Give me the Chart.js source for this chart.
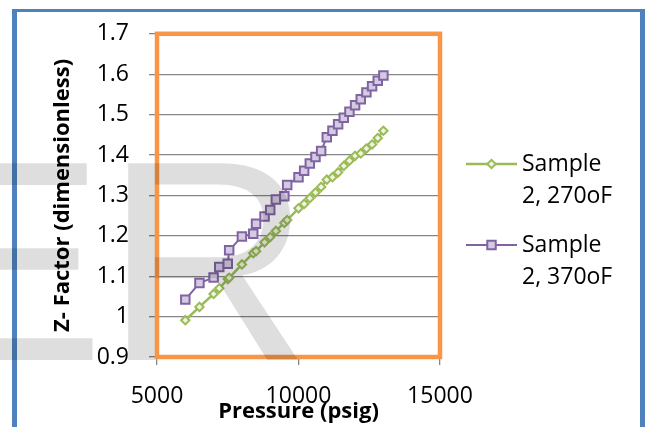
<!DOCTYPE html>
<html><head><meta charset="utf-8">
<script src="https://cdn.jsdelivr.net/npm/chart.js@4.4.1/dist/chart.umd.min.js"></script>
<style>html,body{margin:0;padding:0;background:#fff;}canvas{display:block;}</style>
</head><body>
<canvas id="c" width="649" height="427"></canvas>
<script>
// ---- data ----
const pressure = [6000,6500,7000,7200,7500,7550,8000,8400,8500,8800,9000,9200,9500,9600,10000,10200,10400,10600,10800,11000,11200,11400,11600,11800,12000,12200,12400,12600,12800,13000];
const z270 = [0.991,1.024,1.056,1.070,1.093,1.096,1.129,1.157,1.162,1.184,1.197,1.212,1.232,1.239,1.268,1.279,1.293,1.307,1.321,1.339,1.345,1.357,1.373,1.386,1.398,1.404,1.416,1.426,1.442,1.460];
const z370 = [1.042,1.083,1.097,1.123,1.131,1.164,1.198,1.205,1.230,1.248,1.264,1.290,1.298,1.326,1.345,1.361,1.379,1.395,1.410,1.444,1.460,1.476,1.492,1.507,1.523,1.538,1.555,1.570,1.584,1.597];
const seriesNames = ['Sample 2, 270oF', 'Sample 2, 370oF'];
const xTickValues = [5000, 10000, 15000];
const yTickValues = [0.9, 1.0, 1.1, 1.2, 1.3, 1.4, 1.5, 1.6, 1.7];
const xTitle = 'Pressure (psig)';
const yTitle = 'Z- Factor (dimensionless)';

const FONT = '"Open Sans", "Liberation Sans", sans-serif';
Chart.defaults.font.family = FONT;
Chart.defaults.color = '#000';

const green = '#9BBB59', purple = '#8064A2';

const datasets = [
  {
    label: seriesNames[0],
    data: pressure.map((p, i) => ({x: p, y: z270[i]})),
    showLine: true, borderColor: green, borderWidth: 2.5,
    pointStyle: 'rectRot', pointRadius: 4.2, pointBorderWidth: 2,
    pointBackgroundColor: '#EEF4E0', pointBorderColor: green
  },
  {
    label: seriesNames[1],
    data: pressure.map((p, i) => ({x: p, y: z370[i]})),
    showLine: true, borderColor: purple, borderWidth: 2,
    pointStyle: 'rect', pointRadius: 6, pointBorderWidth: 2,
    pointBackgroundColor: '#D4CBE3', pointBorderColor: purple
  }
];

const decorPlugin = {
  id: 'decor',
  beforeDraw(chart) {
    const ctx = chart.ctx;
    ctx.save(); ctx.fillStyle = '#fff'; ctx.fillRect(0, 0, chart.width, chart.height); ctx.restore();
  },
  beforeDatasetsDraw(chart) {
    const {ctx, chartArea: a} = chart;
    ctx.save();
    ctx.strokeStyle = '#F79646'; ctx.lineWidth = 4.5;
    ctx.strokeRect(a.left, a.top, a.right - a.left, a.bottom - a.top);
    ctx.restore();
  },
  afterDraw(chart) {
    const ctx = chart.ctx;
    ctx.save();
    // custom legend (wrapped labels)
    const entryY = [164, 245];
    chart.data.datasets.forEach((ds, i) => {
      const y = entryY[i];
      ctx.strokeStyle = ds.borderColor; ctx.lineWidth = ds.borderWidth;
      ctx.beginPath(); ctx.moveTo(466, y); ctx.lineTo(517, y); ctx.stroke();
      ctx.fillStyle = ds.pointBackgroundColor; ctx.strokeStyle = ds.pointBorderColor; ctx.lineWidth = ds.pointBorderWidth;
      Chart.helpers.drawPoint(ctx, {pointStyle: ds.pointStyle, radius: ds.pointRadius, borderWidth: ds.pointBorderWidth, rotation: 0}, 491.5, y);
      const sp = ds.label.indexOf(' ');
      const lines = [ds.label.slice(0, sp), ds.label.slice(sp + 1)];
      ctx.fillStyle = '#000'; ctx.font = '23px ' + FONT; ctx.textBaseline = 'middle'; ctx.textAlign = 'left';
      lines.forEach((t, k) => ctx.fillText(t, 522, y + k * 32));
    });
    // outer blue frame
    ctx.fillStyle = '#4F81BD';
    ctx.fillRect(12, 9, 633, 3);
    ctx.fillRect(12, 9, 5, 418);
    ctx.fillRect(640, 9, 5, 418);
    // faint watermark letters
    ctx.fillStyle = 'rgba(0,0,0,0.13)';
    ctx.font = '286px "Liberation Sans"';
    ctx.textBaseline = 'alphabetic'; ctx.textAlign = 'left';
    ctx.fillText('ER', -86, 360);
    ctx.restore();
  }
};

new Chart(document.getElementById('c'), {
  type: 'scatter',
  data: {datasets},
  plugins: [decorPlugin],
  options: {
    responsive: false, animation: false, devicePixelRatio: 1,
    layout: {padding: {left: 0, top: 27, right: 209, bottom: 0}},
    plugins: {legend: {display: false}, tooltip: {enabled: false}},
    scales: {
      x: {
        type: 'linear', min: 5000, max: 15000,
        afterBuildTicks: s => { s.ticks = xTickValues.map(v => ({value: v})); },
        afterFit: s => { s.height = 70; },
        ticks: {font: {size: 23}, padding: 18, callback: v => String(v), maxRotation: 0},
        grid: {drawOnChartArea: false, drawTicks: true, tickLength: 8, color: '#868686', lineWidth: 1.3},
        border: {display: true, color: '#868686', width: 1.3},
        title: {display: true, text: xTitle, font: {size: 22, weight: 'bold'}, padding: {top: 0, bottom: 2}}
      },
      y: {
        type: 'linear', min: 0.9, max: 1.7,
        afterBuildTicks: s => { s.ticks = yTickValues.map(v => ({value: v})); },
        afterFit: s => { s.width = 157; },
        ticks: {font: {size: 23}, padding: 20, callback: v => String(+v.toFixed(1))},
        grid: {drawTicks: true, tickLength: 8, color: '#868686', lineWidth: 1.3},
        border: {display: true, color: '#868686', width: 1.3},
        title: {display: true, text: yTitle, font: {size: 22, weight: 'bold'}, padding: {top: 50, bottom: 0}}
      }
    }
  }
});
</script>
</body></html>
